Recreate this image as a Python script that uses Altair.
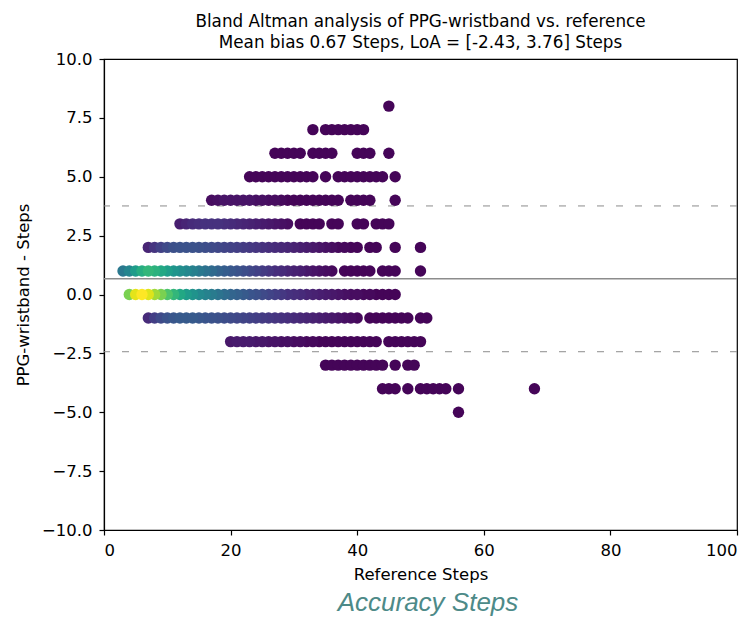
import altair as alt
import pandas as pd

# Bland-Altman rows: difference value (y) and the reference-step positions (x) present in that row
row_y = [8, 7, 6, 5, 4, 3, 2, 1, 0, -1, -2, -3, -4, -5]

x_p8 = [45]
x_p7 = [33, 35, 36, 37, 38, 39, 40, 41]
x_p6 = [27, 28, 29, 30, 31, 33, 34, 35, 36, 40, 41, 42, 45]
x_p5 = [23, 24, 25, 26, 27, 28, 29, 30, 31, 32, 33, 35, 37, 38, 39, 40, 41, 42, 43, 44, 46]
x_p4 = [17, 18, 19, 20, 21, 22, 23, 24, 25, 26, 27, 28, 29, 30, 31, 32, 33, 34, 35, 36, 37,
        39, 40, 41, 42, 46]
x_p3 = [12, 13, 14, 15, 16, 17, 18, 19, 20, 21, 22, 23, 24, 25, 26, 27, 28, 29,
        31, 32, 33, 34, 36, 37, 40, 41, 43, 44, 45]
x_p2 = [7, 8, 9, 10, 11, 12, 13, 14, 15, 16, 17, 18, 19, 20, 21, 22, 23, 24, 25, 26, 27, 28,
        29, 30, 31, 32, 33, 34, 35, 36, 37, 38, 39, 40, 42, 43, 46, 50]
x_p1 = [3, 4, 5, 6, 7, 8, 9, 10, 11, 12, 13, 14, 15, 16, 17, 18, 19, 20, 21, 22, 23, 24, 25,
        26, 27, 28, 29, 30, 31, 32, 33, 34, 35, 36, 38, 39, 40, 41, 42, 44, 45, 46, 50]
x_0 = [4, 5, 6, 7, 8, 9, 10, 11, 12, 13, 14, 15, 16, 17, 18, 19, 20, 21, 22, 23, 24, 25, 26,
       27, 28, 29, 30, 31, 32, 33, 34, 35, 36, 37, 38, 39, 40, 41, 42, 43, 44, 45, 46]
x_m1 = [7, 8, 9, 10, 11, 12, 13, 14, 15, 16, 17, 18, 19, 20, 21, 22, 23, 24, 25, 26, 27, 28,
        29, 30, 31, 32, 33, 34, 35, 36, 37, 38, 39, 40, 42, 43, 44, 45, 46, 47, 48, 50, 51]
x_m2 = [20, 21, 22, 23, 24, 25, 26, 27, 28, 29, 30, 31, 32, 33, 34, 35, 36, 37, 38, 39, 40,
        41, 42, 43, 45, 46, 47, 48, 49, 50]
x_m3 = [35, 36, 37, 38, 39, 40, 41, 42, 43, 44, 46, 48, 49]
x_m4 = [44, 45, 46, 48, 50, 51, 52, 53, 54, 56, 68]
x_m5 = [56]

# estimated point density (colour), leading points of each row; the rest are background density
d_p8 = []
d_p7 = []
d_p6 = []
d_p5 = []
d_p4 = [0.03, 0.04, 0.05, 0.05, 0.05, 0.05, 0.05, 0.04, 0.04, 0.03, 0.03, 0.02]
d_p3 = [0.08, 0.10, 0.12, 0.13, 0.14, 0.14, 0.14, 0.13, 0.12, 0.11, 0.10, 0.09, 0.08, 0.07,
        0.06, 0.05, 0.04, 0.03]
d_p2 = [0.10, 0.15, 0.19, 0.22, 0.24, 0.25, 0.25, 0.25, 0.24, 0.23, 0.22, 0.21, 0.20, 0.19,
        0.18, 0.17, 0.16, 0.15, 0.14, 0.13, 0.12, 0.11, 0.10, 0.09, 0.08, 0.07, 0.06, 0.05,
        0.04, 0.03, 0.02, 0.02]
d_p1 = [0.40, 0.45, 0.55, 0.62, 0.66, 0.64, 0.60, 0.56, 0.52, 0.49, 0.46, 0.43, 0.40, 0.37,
        0.34, 0.31, 0.29, 0.27, 0.25, 0.23, 0.21, 0.19, 0.17, 0.15, 0.13, 0.12, 0.10, 0.09,
        0.08, 0.06, 0.05, 0.04, 0.03, 0.02]
d_0 = [0.80, 0.96, 1.00, 0.95, 0.86, 0.80, 0.72, 0.66, 0.60, 0.55, 0.51, 0.47, 0.44, 0.41,
       0.38, 0.35, 0.32, 0.30, 0.28, 0.26, 0.24, 0.22, 0.20, 0.18, 0.16, 0.14, 0.13, 0.12,
       0.10, 0.09, 0.08, 0.07, 0.06, 0.05, 0.04, 0.03, 0.03, 0.02, 0.02]
d_m1 = [0.12, 0.18, 0.22, 0.25, 0.27, 0.28, 0.28, 0.28, 0.27, 0.26, 0.25, 0.24, 0.23, 0.22,
        0.21, 0.20, 0.19, 0.18, 0.17, 0.16, 0.15, 0.14, 0.13, 0.12, 0.11, 0.10, 0.09, 0.08,
        0.07, 0.06, 0.05, 0.04, 0.03, 0.02]
d_m2 = [0.06, 0.07, 0.07, 0.07, 0.06, 0.06, 0.05, 0.05, 0.04, 0.04, 0.03, 0.03, 0.02, 0.02]
d_m3 = []
d_m4 = []
d_m5 = []
base_density = 0.01

mean_bias = 0.67
loa_low = -2.43
loa_high = 3.76

row_x = [x_p8, x_p7, x_p6, x_p5, x_p4, x_p3, x_p2, x_p1, x_0, x_m1, x_m2, x_m3, x_m4, x_m5]
row_d = [d_p8, d_p7, d_p6, d_p5, d_p4, d_p3, d_p2, d_p1, d_0, d_m1, d_m2, d_m3, d_m4, d_m5]

records = []
for yv, xs, ds in zip(row_y, row_x, row_d):
    for i, xv in enumerate(xs):
        records.append({"ref": xv, "diff": yv,
                        "density": ds[i] if i < len(ds) else base_density})
df = pd.DataFrame(records).sort_values("density", kind="stable").reset_index(drop=True)

FONT = "DejaVu Sans"

xscale = alt.Scale(domain=[0, 100], nice=False, zero=False)
yscale = alt.Scale(domain=[-10, 10], nice=False, zero=False)

points = alt.Chart(df).mark_circle(size=130, opacity=1).encode(
    x=alt.X("ref:Q", scale=xscale,
            axis=alt.Axis(title="Reference Steps", values=[0, 20, 40, 60, 80, 100],
                          format="d")),
    y=alt.Y("diff:Q", scale=yscale,
            axis=alt.Axis(title="PPG-wristband - Steps",
                          values=[-10, -7.5, -5, -2.5, 0, 2.5, 5, 7.5, 10],
                          labelExpr="replace(format(datum.value, '.1f'), '-', '\u2212')")),
    color=alt.Color("density:Q", scale=alt.Scale(scheme="viridis", domain=[0, 1]),
                    legend=None),
)

mean_rule = alt.Chart(pd.DataFrame({"v": [mean_bias]})).mark_rule(
    color="#8c8c8c", strokeWidth=1.5).encode(y=alt.Y("v:Q", scale=yscale))

loa_rule = alt.Chart(pd.DataFrame({"v": [loa_low, loa_high]})).mark_rule(
    color="#8c8c8c", strokeWidth=1, strokeDash=[7, 12]).encode(y=alt.Y("v:Q", scale=yscale))

caption = alt.Chart(pd.DataFrame({"t": ["Accuracy Steps"]})).mark_text(
    font="Liberation Sans", fontSize=26, fontStyle="italic", color="#4d8a88",
    align="center", baseline="alphabetic").encode(
    text="t:N", x=alt.value(324), y=alt.value(552))

chart = alt.layer(loa_rule, mean_rule, points, caption).properties(
    width=633, height=471,
    autosize=alt.AutoSizeParams(type="none"),
    padding={"left": 96, "top": 51, "right": 7, "bottom": 88},
    title=alt.TitleParams(
        text=["Bland Altman analysis of PPG-wristband vs. reference",
              "Mean bias 0.67 Steps, LoA = [-2.43, 3.76] Steps"],
        font=FONT, fontSize=16.8, fontWeight="normal", color="black",
        anchor="middle", offset=-1, lineHeight=21),
).configure_view(stroke="black", strokeWidth=1.2).configure_axis(
    labelFont=FONT, titleFont=FONT, labelFontSize=16.5, titleFontSize=16.5,
    titleFontWeight="normal", labelColor="black", titleColor="black",
    domainColor="black", tickColor="black", tickSize=5, domainWidth=1.2, tickWidth=1.2,
    grid=False, labelPadding=7,
).configure_axisX(titlePadding=8).configure_axisY(titlePadding=10)

chart.save("out.html", embed_options={"renderer": "svg", "actions": False})
